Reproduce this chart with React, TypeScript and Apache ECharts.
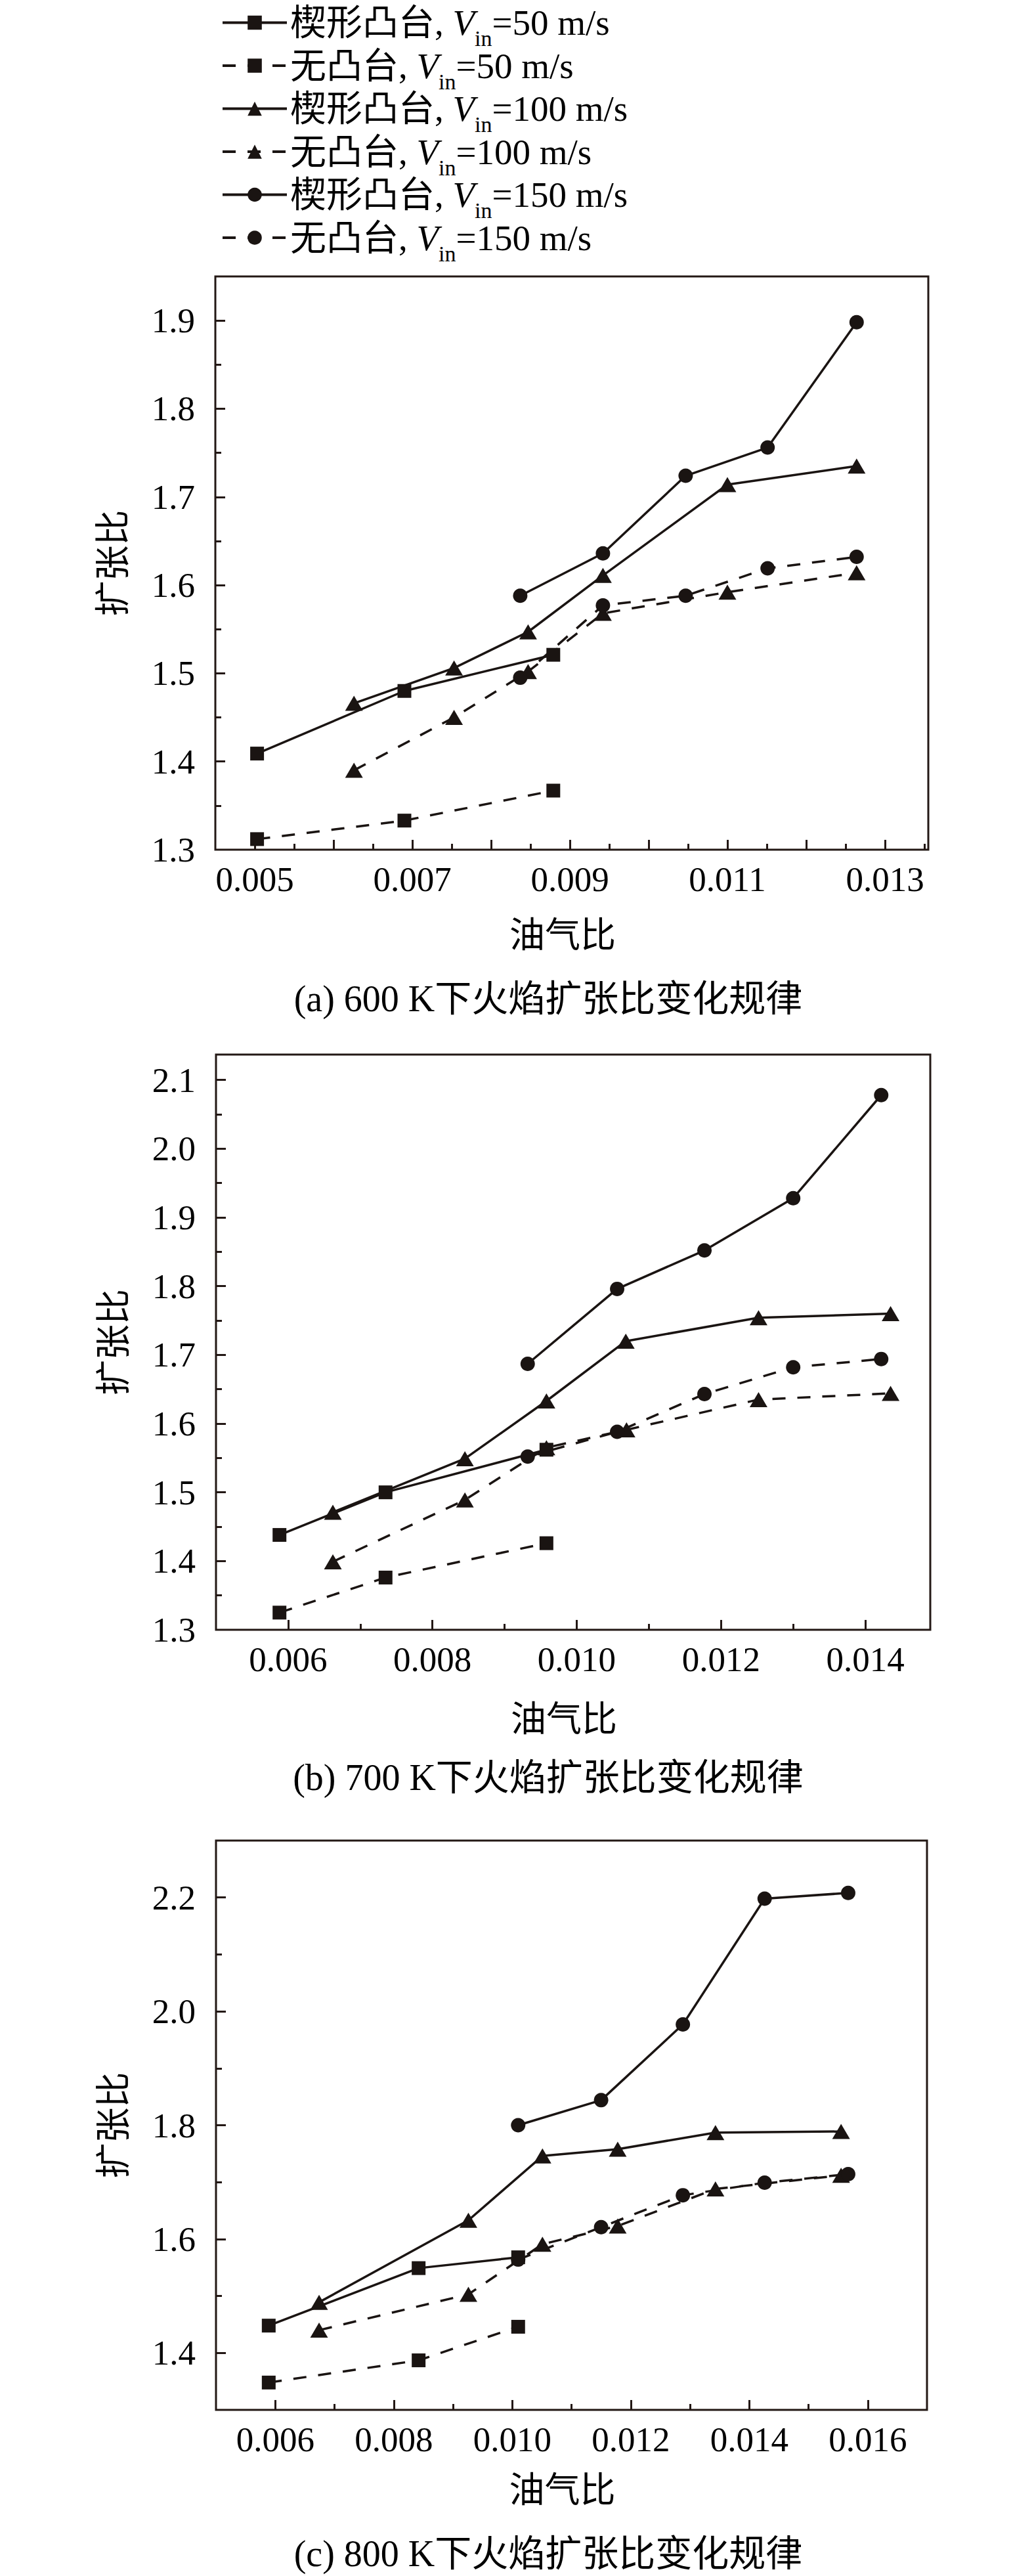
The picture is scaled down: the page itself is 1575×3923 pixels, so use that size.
import React, { useEffect, useRef } from "react";
import * as echarts from "echarts";

// ---------- legend / series identity ----------
const SHAPE_NAMES = ["楔形凸台", "无凸台", "楔形凸台", "无凸台", "楔形凸台", "无凸台"];
const SPEEDS = [50, 50, 100, 100, 150, 150];
const SYMBOLS = ["rect", "rect", "triangle", "triangle", "circle", "circle"];
const DASHED = [false, true, false, true, false, true];
const SERIES_NAMES = SHAPE_NAMES.map((s, i) => `${s}, Vin=${SPEEDS[i]} m/s`);

// ---------- (a) 600 K ----------
const A_W50 = [[0.00503, 1.409], [0.0069, 1.48], [0.00879, 1.521]];
const A_N50 = [[0.00503, 1.312], [0.0069, 1.333], [0.00879, 1.367]];
const A_W100 = [[0.00626, 1.466], [0.00753, 1.506], [0.00847, 1.547], [0.00942, 1.611], [0.011, 1.714], [0.01264, 1.735]];
const A_N100 = [[0.00626, 1.39], [0.00753, 1.45], [0.00847, 1.502], [0.00942, 1.568], [0.011, 1.592], [0.01264, 1.614]];
const A_W150 = [[0.00837, 1.588], [0.00942, 1.636], [0.01047, 1.724], [0.01151, 1.756], [0.01264, 1.898]];
const A_N150 = [[0.00837, 1.495], [0.00942, 1.577], [0.01047, 1.588], [0.01151, 1.619], [0.01264, 1.632]];

// ---------- (b) 700 K ----------
const B_W50 = [[0.00588, 1.438], [0.00735, 1.5], [0.00958, 1.562]];
const B_N50 = [[0.00588, 1.325], [0.00735, 1.376], [0.00958, 1.426]];
const B_W100 = [[0.00662, 1.471], [0.00845, 1.549], [0.00958, 1.633], [0.01068, 1.72], [0.01252, 1.754], [0.01435, 1.76]];
const B_N100 = [[0.00662, 1.399], [0.00845, 1.489], [0.00958, 1.565], [0.01069, 1.591], [0.01252, 1.635], [0.01435, 1.644]];
const B_W150 = [[0.00932, 1.687], [0.01056, 1.796], [0.01177, 1.852], [0.013, 1.928], [0.01422, 2.078]];
const B_N150 = [[0.00932, 1.552], [0.01056, 1.588], [0.01177, 1.643], [0.013, 1.682], [0.01422, 1.694]];

// ---------- (c) 800 K ----------
const C_W50 = [[0.00589, 1.448], [0.00842, 1.549], [0.0101, 1.568]];
const C_N50 = [[0.00589, 1.348], [0.00842, 1.387], [0.0101, 1.446]];
const C_W100 = [[0.00674, 1.489], [0.00926, 1.633], [0.01051, 1.746], [0.01178, 1.758], [0.01343, 1.787], [0.01555, 1.789]];
const C_N100 = [[0.00674, 1.44], [0.00926, 1.503], [0.01051, 1.591], [0.01178, 1.623], [0.01343, 1.688], [0.01555, 1.712]];
const C_W150 = [[0.0101, 1.8], [0.0115, 1.844], [0.01288, 1.977], [0.01426, 2.198], [0.01567, 2.208]];
const C_N150 = [[0.0101, 1.564], [0.0115, 1.621], [0.01288, 1.677], [0.01426, 1.699], [0.01567, 1.714]];

// ---------- axes: extents and ticks ----------
const A_X_RANGE = [0.0045, 0.01355];
const A_Y_RANGE = [1.3, 1.95];
const A_X_MAJOR = [0.005, 0.006, 0.007, 0.008, 0.009, 0.01, 0.011, 0.012, 0.013];
const A_X_MINOR = [0.0055, 0.0065, 0.0075, 0.0085, 0.0095, 0.0105, 0.0115, 0.0125, 0.0135];
const A_X_LABELS = [0.005, 0.007, 0.009, 0.011, 0.013];
const A_Y_MAJOR = [1.4, 1.5, 1.6, 1.7, 1.8, 1.9];
const A_Y_MINOR = [1.35, 1.45, 1.55, 1.65, 1.75, 1.85];
const A_Y_LABELS = [1.3, 1.4, 1.5, 1.6, 1.7, 1.8, 1.9];

const B_X_RANGE = [0.005, 0.0149];
const B_Y_RANGE = [1.3, 2.137];
const B_X_MAJOR = [0.006, 0.008, 0.01, 0.012, 0.014];
const B_X_MINOR = [0.007, 0.009, 0.011, 0.013];
const B_X_LABELS = [0.006, 0.008, 0.01, 0.012, 0.014];
const B_Y_MAJOR = [1.4, 1.5, 1.6, 1.7, 1.8, 1.9, 2.0, 2.1];
const B_Y_MINOR = [1.35, 1.45, 1.55, 1.65, 1.75, 1.85, 1.95, 2.05];
const B_Y_LABELS = [1.3, 1.4, 1.5, 1.6, 1.7, 1.8, 1.9, 2.0, 2.1];

const C_X_RANGE = [0.005, 0.017];
const C_Y_RANGE = [1.3, 2.3];
const C_X_MAJOR = [0.006, 0.008, 0.01, 0.012, 0.014, 0.016];
const C_X_MINOR = [0.007, 0.009, 0.011, 0.013, 0.015];
const C_X_LABELS = [0.006, 0.008, 0.01, 0.012, 0.014, 0.016];
const C_Y_MAJOR = [1.4, 1.6, 1.8, 2.0, 2.2];
const C_Y_MINOR = [1.5, 1.7, 1.9, 2.1];
const C_Y_LABELS = [1.4, 1.6, 1.8, 2.0, 2.2];

const CAPTIONS = [
  "(a) 600 K下火焰扩张比变化规律",
  "(b) 700 K下火焰扩张比变化规律",
  "(c) 800 K下火焰扩张比变化规律",
];
const X_NAME = "油气比";
const Y_NAME = "扩张比";

// ---------- layout (pixels) ----------
const GRIDS = [
  { left: 328, top: 421, width: 1086, height: 873, xNameGap: 104, capY: 1521 },
  { left: 329, top: 1606, width: 1088, height: 876, xNameGap: 110, capY: 2707 },
  { left: 329, top: 2803, width: 1083, height: 867, xNameGap: 96, capY: 3889 },
];

const FONT = "'Liberation Serif', 'Times New Roman', 'Noto Sans CJK SC', serif";
const INK = "#1a1412";
const AXIS_INK = "#231815";

const PANELS = [
  {
    data: [A_W50, A_N50, A_W100, A_N100, A_W150, A_N150],
    xr: A_X_RANGE, yr: A_Y_RANGE,
    xMaj: A_X_MAJOR, xMin: A_X_MINOR, xLab: A_X_LABELS,
    yMaj: A_Y_MAJOR, yMin: A_Y_MINOR, yLab: A_Y_LABELS,
  },
  {
    data: [B_W50, B_N50, B_W100, B_N100, B_W150, B_N150],
    xr: B_X_RANGE, yr: B_Y_RANGE,
    xMaj: B_X_MAJOR, xMin: B_X_MINOR, xLab: B_X_LABELS,
    yMaj: B_Y_MAJOR, yMin: B_Y_MINOR, yLab: B_Y_LABELS,
  },
  {
    data: [C_W50, C_N50, C_W100, C_N100, C_W150, C_N150],
    xr: C_X_RANGE, yr: C_Y_RANGE,
    xMaj: C_X_MAJOR, xMin: C_X_MINOR, xLab: C_X_LABELS,
    yMaj: C_Y_MAJOR, yMin: C_Y_MINOR, yLab: C_Y_LABELS,
  },
];

function symbolSizeOf(sym: string) {
  if (sym === "triangle") return [27, 23];
  if (sym === "circle") return 22;
  return 21;
}

function buildOption() {
  const grid: any[] = [];
  const xAxis: any[] = [];
  const yAxis: any[] = [];
  const series: any[] = [];
  const graphic: any[] = [];

  const tickLine = { color: AXIS_INK, width: 3 };

  PANELS.forEach((p, c) => {
    const g = GRIDS[c];
    grid.push({
      left: g.left,
      top: g.top,
      width: g.width,
      height: g.height,
      show: true,
      borderColor: AXIS_INK,
      borderWidth: 3,
      backgroundColor: "transparent",
      containLabel: false,
    });

    xAxis.push({
      type: "value",
      gridIndex: c,
      position: "bottom",
      min: p.xr[0],
      max: p.xr[1],
      axisLine: { show: false },
      splitLine: { show: false },
      axisTick: { show: true, inside: true, length: 15, lineStyle: tickLine, customValues: p.xMaj },
      axisLabel: {
        show: true,
        customValues: p.xLab,
        formatter: (v: number) => v.toFixed(3),
        fontFamily: FONT,
        fontSize: 53,
        color: "#000",
        margin: 18,
      },
      name: X_NAME,
      nameLocation: "middle",
      nameGap: g.xNameGap,
      nameTextStyle: { fontFamily: FONT, fontSize: 54, color: "#000", padding: [0, 28, 0, 0] },
    });
    xAxis.push({
      type: "value",
      gridIndex: c,
      position: "bottom",
      min: p.xr[0],
      max: p.xr[1],
      axisLine: { show: false },
      splitLine: { show: false },
      axisLabel: { show: false },
      axisTick: { show: true, inside: true, length: 9, lineStyle: tickLine, customValues: p.xMin },
    });

    yAxis.push({
      type: "value",
      gridIndex: c,
      position: "left",
      min: p.yr[0],
      max: p.yr[1],
      axisLine: { show: false },
      splitLine: { show: false },
      axisTick: { show: true, inside: true, length: 15, lineStyle: tickLine, customValues: p.yMaj },
      axisLabel: {
        show: true,
        customValues: p.yLab,
        formatter: (v: number) => v.toFixed(1),
        fontFamily: FONT,
        fontSize: 53,
        color: "#000",
        margin: 31,
      },
      name: Y_NAME,
      nameLocation: "middle",
      nameRotate: 90,
      nameGap: 128,
      nameTextStyle: { fontFamily: FONT, fontSize: 54, color: "#000" },
    });
    yAxis.push({
      type: "value",
      gridIndex: c,
      position: "left",
      min: p.yr[0],
      max: p.yr[1],
      axisLine: { show: false },
      splitLine: { show: false },
      axisLabel: { show: false },
      axisTick: { show: true, inside: true, length: 9, lineStyle: tickLine, customValues: p.yMin },
    });

    p.data.forEach((d, s) => {
      series.push({
        type: "line",
        name: SERIES_NAMES[s],
        xAxisIndex: 2 * c,
        yAxisIndex: 2 * c,
        data: d,
        symbol: SYMBOLS[s],
        symbolSize: symbolSizeOf(SYMBOLS[s]),
        showSymbol: true,
        clip: false,
        silent: true,
        lineStyle: { color: INK, width: 3.5, type: DASHED[s] ? [20, 18] : "solid" },
        itemStyle: { color: INK },
        z: 3,
      });
    });

    graphic.push({
      type: "text",
      x: 835,
      y: g.capY,
      silent: true,
      style: {
        text: CAPTIONS[c],
        fontFamily: FONT,
        fontSize: 56,
        fill: "#000",
        align: "center",
        verticalAlign: "middle",
      },
    });
  });

  return {
    animation: false,
    backgroundColor: "#ffffff",
    legend: {
      orient: "vertical",
      left: 337,
      top: 7,
      padding: 0,
      itemWidth: 98,
      itemHeight: 27,
      itemGap: -3,
      selectedMode: false,
      data: SERIES_NAMES,
      lineStyle: { width: 4 },
      formatter: (name: string) => {
        const i = SERIES_NAMES.indexOf(name);
        return `{c|${SHAPE_NAMES[i]}, }{v|V}{s|in}{c|=${SPEEDS[i]} m/s}`;
      },
      textStyle: {
        fontFamily: FONT,
        fontSize: 55,
        color: "#000",
        rich: {
          c: { fontFamily: FONT, fontSize: 55, lineHeight: 50, color: "#000" },
          v: { fontFamily: FONT, fontSize: 55, fontStyle: "italic", lineHeight: 50, color: "#000" },
          s: { fontFamily: FONT, fontSize: 34, height: 2, color: "#000", verticalAlign: "bottom" },
        },
      },
    },
    grid,
    xAxis,
    yAxis,
    series,
    graphic,
  };
}

export default function App() {
  const ref = useRef<HTMLDivElement | null>(null);
  useEffect(() => {
    if (!ref.current) return;
    const chart = echarts.init(ref.current, undefined, { renderer: "svg" });
    chart.setOption(buildOption() as any);
    return () => {
      chart.dispose();
    };
  }, []);
  return (
    <div
      ref={ref}
      style={{ position: "absolute", left: 0, top: 0, width: 1575, height: 3923, background: "#fff" }}
    />
  );
}
